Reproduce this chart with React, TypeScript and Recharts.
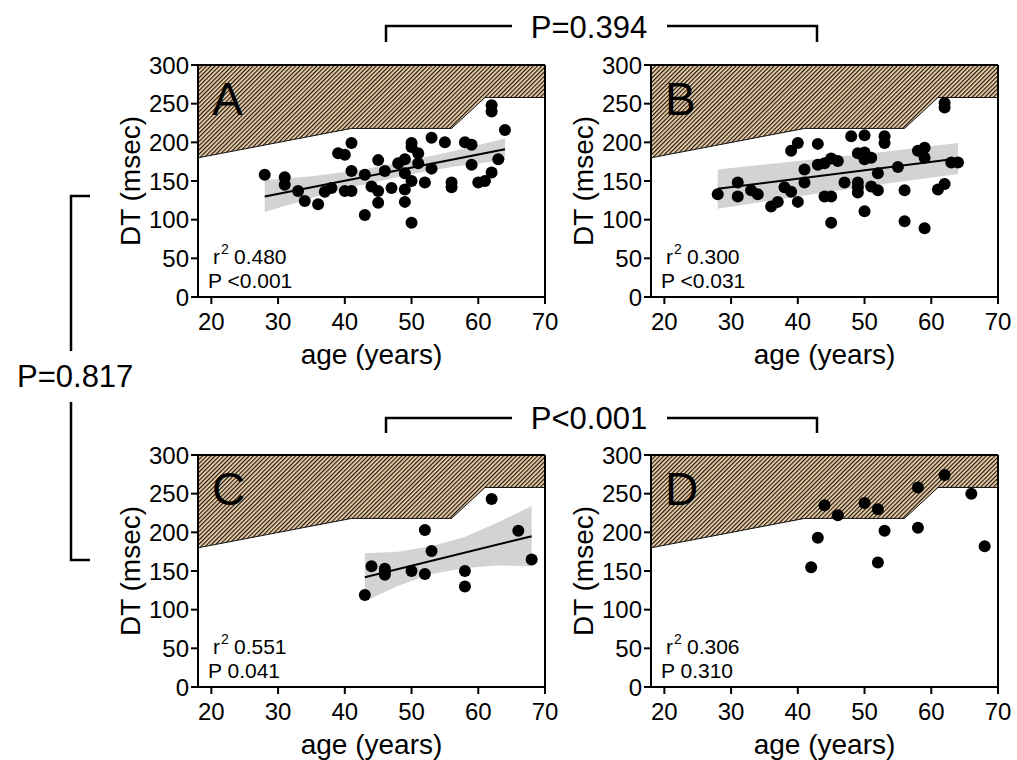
import React from 'react';
import { ComposedChart, Scatter, Line, Area, XAxis, YAxis } from 'recharts';

const FONT = '"Liberation Sans", Arial, Helvetica, sans-serif';

const xTicks = [20, 30, 40, 50, 60, 70];
const yTicks = [0, 50, 100, 150, 200, 250, 300];

// lower edge of the hatched zone (upper limit is 300)
const zoneAge = [18, 41, 56, 61, 70];
const zoneLow = [180, 218, 218, 258, 258];

// panel A
const ageA = [28, 31, 31, 33, 34, 36, 37, 38, 39, 40, 40, 41, 41, 41, 43, 43, 44, 45, 45, 45, 46, 47, 48, 49, 49, 49, 49, 50, 50, 50, 50, 51, 51, 52, 53, 53, 55, 56, 56, 58, 59, 59, 60, 61, 62, 62, 62, 63, 64];
const dtA = [158, 155, 145, 137, 124, 120, 136, 141, 186, 184, 137, 137, 199, 163, 158, 106, 143, 177, 137, 122, 163, 141, 173, 178, 160, 139, 123, 199, 194, 150, 96, 186, 173, 148, 206, 166, 200, 148, 142, 200, 197, 171, 148, 150, 161, 248, 240, 178, 216];
const fitAgeA = [28, 64];
const fitDtA = [130, 191];
const bandAgeA = [28, 35, 42, 49, 56, 64];
const bandLoA = [110, 128, 144, 157, 168, 177];
const bandHiA = [151, 156, 164, 175, 188, 205];

// panel B
const ageB = [28, 31, 31, 33, 34, 36, 37, 38, 39, 39, 40, 40, 41, 41, 43, 43, 44, 44, 45, 45, 45, 46, 47, 48, 49, 49, 49, 49, 50, 50, 50, 50, 51, 51, 52, 52, 53, 53, 55, 56, 56, 58, 59, 59, 59, 61, 62, 62, 62, 63, 64];
const dtB = [133, 148, 130, 138, 133, 117, 123, 142, 189, 136, 199, 123, 165, 148, 198, 171, 130, 173, 130, 179, 96, 176, 148, 208, 186, 148, 142, 135, 209, 187, 178, 111, 180, 143, 138, 160, 208, 199, 168, 138, 98, 189, 193, 180, 89, 139, 146, 251, 245, 174, 174];
const fitAgeB = [28, 64];
const fitDtB = [140, 179];
const bandAgeB = [28, 40, 52, 64];
const bandLoB = [114, 130, 145, 159];
const bandHiB = [165, 176, 187, 199];

// panel C
const ageC = [43, 44, 46, 46, 46, 50, 52, 52, 53, 58, 58, 62, 66, 68];
const dtC = [119, 156, 153, 149, 145, 150, 203, 146, 176, 150, 130, 243, 202, 165];
const fitAgeC = [43, 68];
const fitDtC = [142, 195];
const bandAgeC = [43, 48, 53, 58, 63, 68];
const bandLoC = [111, 131, 146, 154, 157, 156];
const bandHiC = [173, 175, 182, 194, 213, 234];

// panel D
const ageD = [42, 43, 44, 46, 50, 52, 52, 53, 58, 58, 62, 66, 68];
const dtD = [155, 193, 235, 222, 238, 230, 161, 202, 258, 206, 274, 250, 182];

const rows = (ages: number[], vals: number[]) => ages.map((age, i) => ({ age, dt: vals[i] }));
const ranges = (ages: number[], lo: number[], hi: number[]) =>
  ages.map((age, i) => ({ age, range: [lo[i], hi[i]] }));

const zoneRows = ranges(zoneAge, zoneLow, zoneAge.map(() => 300));

const dot = (props: any) => <circle cx={props.cx} cy={props.cy} r={6} fill="#000" />;

const axisStroke = { stroke: '#000', strokeWidth: 2 };

interface PanelProps {
  id: string;
  left: number; // plot area left, page px
  top: number; // plot area top, page px
  pts: Array<{ age: number; dt: number }>;
  fit?: Array<{ age: number; dt: number }>;
  band?: Array<{ age: number; range: number[] }>;
}

function Panel({ id, left, top, pts, fit, band }: PanelProps) {
  return (
    <div style={{ position: 'absolute', left: left - 90, top: top - 20 }}>
      <ComposedChart width={452} height={352} margin={{ top: 10, right: 5, bottom: 60, left: 30 }}>
        <defs>
          <pattern id={`hatch-${id}`} width="3" height="3" patternUnits="userSpaceOnUse" patternTransform="rotate(45)">
            <rect width="3" height="3" fill="#f6d4a8" />
            <line x1="0.6" y1="0" x2="0.6" y2="3" stroke="#151515" strokeWidth="1.2" />
          </pattern>
        </defs>
        <XAxis
          dataKey="age"
          type="number"
          domain={[18, 70]}
          ticks={xTicks}
          allowDataOverflow
          height={40}
          tickSize={7}
          tickMargin={9}
          axisLine={axisStroke}
          tickLine={axisStroke}
          tick={{ fontSize: 24, fill: '#000' }}
          label={{ value: 'age (years)', position: 'bottom', offset: 7, fontSize: 28, fill: '#000' }}
        />
        <XAxis
          xAxisId="top"
          orientation="top"
          type="number"
          domain={[18, 70]}
          ticks={xTicks}
          allowDataOverflow
          height={10}
          tickSize={5}
          tick={false}
          axisLine={axisStroke}
          tickLine={axisStroke}
        />
        <YAxis
          type="number"
          domain={[0, 300]}
          ticks={yTicks}
          allowDataOverflow
          width={60}
          tickSize={7}
          tickMargin={2}
          axisLine={axisStroke}
          tickLine={axisStroke}
          tick={{ fontSize: 24, fill: '#000' }}
          label={{
            value: 'DT (msec)',
            angle: -90,
            position: 'left',
            offset: 8,
            fontSize: 28,
            fill: '#000',
            style: { textAnchor: 'middle' },
          }}
        />
        <YAxis
          yAxisId="right"
          orientation="right"
          type="number"
          domain={[0, 300]}
          ticks={yTicks}
          width={10}
          tickSize={5}
          tick={false}
          axisLine={axisStroke}
          tickLine={axisStroke}
        />
        <Area
          data={zoneRows}
          dataKey="range"
          type="linear"
          fill={`url(#hatch-${id})`}
          fillOpacity={1}
          stroke="#111"
          strokeWidth={1}
          isAnimationActive={false}
          activeDot={false}
        />
        {band && (
          <Area
            data={band}
            dataKey="range"
            type="linear"
            fill="#d3d3d3"
            fillOpacity={1}
            stroke="none"
            isAnimationActive={false}
            activeDot={false}
          />
        )}
        {fit && (
          <Line
            data={fit}
            dataKey="dt"
            type="linear"
            stroke="#000"
            strokeWidth={2}
            dot={false}
            activeDot={false}
            isAnimationActive={false}
          />
        )}
        <Scatter data={pts} dataKey="dt" shape={dot} isAnimationActive={false} />
      </ComposedChart>
    </div>
  );
}

const panels = [
  { id: 'A', left: 198, top: 65, pts: rows(ageA, dtA), fit: rows(fitAgeA, fitDtA), band: ranges(bandAgeA, bandLoA, bandHiA), r2: '0.480', p: '<0.001' },
  { id: 'B', left: 651, top: 65, pts: rows(ageB, dtB), fit: rows(fitAgeB, fitDtB), band: ranges(bandAgeB, bandLoB, bandHiB), r2: '0.300', p: '<0.031' },
  { id: 'C', left: 198, top: 455, pts: rows(ageC, dtC), fit: rows(fitAgeC, fitDtC), band: ranges(bandAgeC, bandLoC, bandHiC), r2: '0.551', p: '0.041' },
  { id: 'D', left: 651, top: 455, pts: rows(ageD, dtD), r2: '0.306', p: '0.310' },
];

export default function App() {
  return (
    <div
      style={{
        position: 'absolute',
        left: 0,
        top: 0,
        width: 1017,
        height: 760,
        background: '#fff',
        fontFamily: FONT,
        overflow: 'hidden',
      }}
    >
      {panels.map((p) => (
        <Panel key={p.id} id={p.id} left={p.left} top={p.top} pts={p.pts} fit={p.fit} band={p.band} />
      ))}
      <svg
        width={1017}
        height={760}
        style={{ position: 'absolute', left: 0, top: 0, pointerEvents: 'none', fontFamily: FONT }}
      >
        {panels.map((p) => (
          <g key={p.id}>
            <text x={p.left + 14} y={p.top + 50} fontSize={46} fill="#000">
              {p.id}
            </text>
            <text x={p.left + 15} y={p.top + 199} fontSize={21} fill="#000">
              r
            </text>
            <text x={p.left + 23} y={p.top + 189} fontSize={14} fill="#000">
              2
            </text>
            <text x={p.left + 36} y={p.top + 199} fontSize={21} fill="#000">
              {p.r2}
            </text>
            <text x={p.left + 10} y={p.top + 223} fontSize={21} fill="#000">
              {`P ${p.p}`}
            </text>
          </g>
        ))}
        {/* comparison brackets */}
        <g stroke="#000" strokeWidth={2.5} fill="none">
          <path d="M386,42 V26 H512 M667,26 H817 V42" />
          <path d="M386,433 V418 H512 M667,418 H817 V433" />
          <path d="M90,196 H71 V351 M71,402 V560 H90" />
        </g>
        <text x={589} y={38} fontSize={31} textAnchor="middle" fill="#000">
          P=0.394
        </text>
        <text x={589} y={429} fontSize={31} textAnchor="middle" fill="#000">
          P&lt;0.001
        </text>
        <text x={17} y={387} fontSize={31} fill="#000">
          P=0.817
        </text>
      </svg>
    </div>
  );
}
